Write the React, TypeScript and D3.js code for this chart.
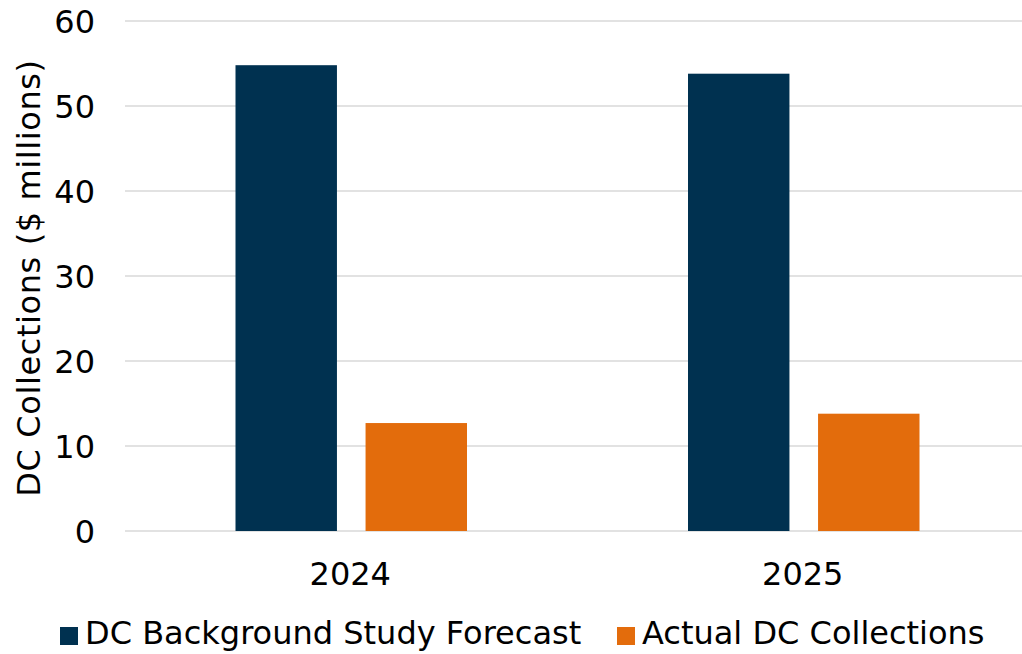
import React from "react";
import * as d3 from "d3";

const years = ["2024", "2025"];
const seriesNames = ["DC Background Study Forecast", "Actual DC Collections"];
const forecastValues = [54.8, 53.8];
const actualValues = [12.7, 13.8];
const yTicks = [0, 10, 20, 30, 40, 50, 60];
const colors = ["#003150", "#E36C0C"];

const W = 1022;
const H = 654;
const FONT = "'DejaVu Sans', Verdana, sans-serif";
const FS = 32;

export default function App() {
  const plot = { left: 125, right: 1030, top: 21, bottom: 531 };

  const x = d3.scaleBand<string>().domain(years).range([plot.left, plot.right]).paddingInner(0).paddingOuter(0);
  const groupPad = 110.5;
  const inner = d3
    .scaleBand<string>()
    .domain(seriesNames)
    .range([groupPad, x.bandwidth() - groupPad])
    .paddingInner(0.22);
  const y = d3.scaleLinear().domain([0, 60]).range([plot.bottom, plot.top]);

  const series = [forecastValues, actualValues];

  return (
    <svg
      width={W}
      height={H}
      style={{ position: "absolute", left: 0, top: 0, display: "block", background: "#fff" }}
      fontFamily={FONT}
    >
      {/* horizontal gridlines */}
      {yTicks.map((t) => (
        <line key={t} x1={plot.left} x2={W} y1={y(t)} y2={y(t)} stroke="#D9D9D9" strokeWidth={1.5} />
      ))}
      {/* y tick labels */}
      {yTicks.map((t) => (
        <text key={"l" + t} x={95} y={y(t) + 12} textAnchor="end" fontSize={FS} fill="#000">
          {t}
        </text>
      ))}
      {/* bars */}
      {years.map((yr, i) => (
        <g key={yr}>
          {seriesNames.map((s, j) => (
            <rect
              key={s}
              x={(x(yr) as number) + (inner(s) as number)}
              y={y(series[j][i])}
              width={inner.bandwidth()}
              height={y(0) - y(series[j][i])}
              fill={colors[j]}
            />
          ))}
          <text
            x={(x(yr) as number) + x.bandwidth() / 2 - 1}
            y={585}
            textAnchor="middle"
            fontSize={FS}
            fill="#000"
          >
            {yr}
          </text>
        </g>
      ))}
      {/* y axis title */}
      <text
        transform={`translate(40, 278) rotate(-90)`}
        textAnchor="middle"
        fontSize={FS}
        letterSpacing={0.6}
        fill="#000"
      >
        DC Collections ($ millions)
      </text>
      {/* legend */}
      {seriesNames.map((s, j) => {
        const lx = j === 0 ? 60 : 617;
        return (
          <g key={"lg" + s}>
            <rect x={lx} y={627} width={18} height={18} fill={colors[j]} />
            <text x={lx + 25} y={644} fontSize={FS} fill="#000">
              {s}
            </text>
          </g>
        );
      })}
    </svg>
  );
}
